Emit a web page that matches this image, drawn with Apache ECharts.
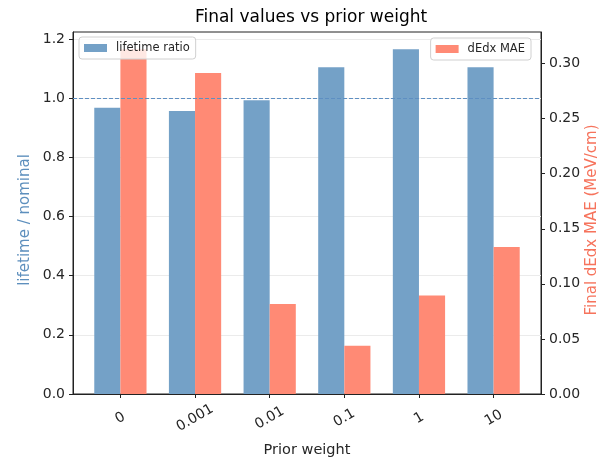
<!DOCTYPE html>
<html>
<head>
<meta charset="utf-8">
<script src="https://cdn.jsdelivr.net/npm/echarts@6/dist/echarts.min.js"></script>
<style>
  html, body { margin: 0; padding: 0; background: #fff; }
  #chart { width: 600px; height: 459px; }
</style>
</head>
<body>
<div id="chart"></div>
<script>
// Prior weights tried, and the final results for each run
const priorWeights = ['0', '0.001', '0.01', '0.1', '1', '10'];
const lifetimeRatio = [0.967, 0.956, 0.993, 1.104, 1.165, 1.104];
const dedxMae = [0.313, 0.2915, 0.0816, 0.0438, 0.0895, 0.1334];
const leftTicks = [0, 0.2, 0.4, 0.6, 0.8, 1.0, 1.2];
const rightTicks = [0, 0.05, 0.10, 0.15, 0.20, 0.25, 0.30];
const nominal = 1.0;

const barFrac = 0.35;               // each bar is 0.35 of the category spacing
const idx = priorWeights.map((_, i) => i);
const xPad = barFrac + 0.05 * (priorWeights.length - 1 + 2 * barFrac);

const FONT = 'DejaVu Sans';
const INK = '#262626';

const chart = echarts.init(document.getElementById('chart'), null, { renderer: 'canvas' });

const legendBase = {
  orient: 'vertical',
  icon: 'rect',
  itemWidth: 23, itemHeight: 8, itemGap: 6,
  padding: [5, 6, 5, 5],
  borderColor: '#d0d0d0', borderWidth: 1, borderRadius: 3,
  backgroundColor: 'rgba(255,255,255,0.8)',
  textStyle: { fontFamily: FONT, fontSize: 11.5, color: INK, padding: [0, 0, 0, 4] },
  selectedMode: false
};

const axisLineStyle = { show: true, onZero: false, lineStyle: { color: '#222', width: 1 } };

chart.setOption({
  animation: false,
  backgroundColor: '#ffffff',
  textStyle: { fontFamily: FONT },
  title: {
    text: 'Final values vs prior weight',
    left: 306, top: 4, textAlign: 'center',
    textStyle: { fontFamily: FONT, fontSize: 17, fontWeight: 'normal', color: '#000' }
  },
  legend: [
    Object.assign({}, legendBase, { data: ['lifetime ratio'], left: 79, top: 37 }),
    Object.assign({}, legendBase, { data: ['dEdx MAE'], right: 69, top: 38 })
  ],
  grid: {
    left: 73, right: 59, top: 32, bottom: 65,
    outerBoundsMode: 'none',
    containLabel: false,
    show: true, borderColor: '#222', borderWidth: 1,
    backgroundColor: 'transparent'
  },
  xAxis: {
    type: 'value',
    min: -xPad,
    max: priorWeights.length - 1 + xPad,
    name: 'Prior weight',
    nameLocation: 'middle',
    nameGap: 49,
    nameMoveOverlap: false,
    nameTextStyle: { fontFamily: FONT, fontSize: 14.5, color: INK },
    axisLine: axisLineStyle,
    axisTick: { show: true, length: 4, lineStyle: { color: '#222' }, customValues: idx },
    axisLabel: {
      customValues: idx,
      rotate: 30,
      align: 'center',
      verticalAlign: 'middle',
      margin: 24,
      fontFamily: FONT, fontSize: 14, color: INK,
      formatter: v => priorWeights[Math.round(v)]
    },
    splitLine: { show: false }
  },
  yAxis: [
    {
      type: 'value',
      position: 'left',
      min: 0,
      max: Math.max(...lifetimeRatio) * 1.05,
      name: 'lifetime / nominal',
      nameLocation: 'middle',
      nameGap: 48,
      nameRotate: 90,
      nameMoveOverlap: false,
      nameTextStyle: {
        fontFamily: FONT, fontSize: 15, color: '#5d8fbd',
        align: 'center', verticalAlign: 'middle', padding: [0, 14, 0, 0]
      },
      axisLine: axisLineStyle,
      axisTick: { show: true, length: 4, lineStyle: { color: '#222' }, customValues: leftTicks },
      axisLabel: {
        customValues: leftTicks,
        fontFamily: FONT, fontSize: 14, color: INK, margin: 8,
        formatter: v => v.toFixed(1)
      },
      splitLine: { show: true, lineStyle: { color: '#ebebeb', width: 1 } }
    },
    {
      type: 'value',
      position: 'right',
      min: 0,
      max: Math.max(...dedxMae) * 1.05,
      name: 'Final dEdx MAE (MeV/cm)',
      nameLocation: 'middle',
      nameGap: 51,
      nameRotate: 90,
      nameMoveOverlap: false,
      nameTextStyle: {
        fontFamily: FONT, fontSize: 15, color: '#f6735c',
        align: 'center', verticalAlign: 'middle', padding: [0, 14, 0, 0]
      },
      axisLine: axisLineStyle,
      axisTick: { show: true, length: 4, lineStyle: { color: '#222' }, customValues: rightTicks },
      axisLabel: {
        customValues: rightTicks,
        fontFamily: FONT, fontSize: 14, color: INK, margin: 8,
        formatter: v => v.toFixed(2)
      },
      splitLine: { show: false }
    }
  ],
  series: [
    {
      name: 'lifetime ratio',
      type: 'bar',
      xAxisIndex: 0,
      yAxisIndex: 0,
      barWidth: (barFrac * 100) + '%',
      barGap: '0%',
      itemStyle: { color: '#74a1c7' },
      data: lifetimeRatio.map((v, i) => [i, v]),
      markLine: {
        silent: true,
        symbol: 'none',
        label: { show: false },
        lineStyle: { color: '#5e8fc2', type: [4, 2], width: 1, opacity: 1 },
        emphasis: { disabled: true },
        data: [{ yAxis: nominal }]
      },
      z: 2
    },
    {
      name: 'dEdx MAE',
      type: 'bar',
      xAxisIndex: 0,
      yAxisIndex: 1,
      barWidth: (barFrac * 100) + '%',
      barGap: '0%',
      itemStyle: { color: '#ff8a75' },
      data: dedxMae.map((v, i) => [i, v]),
      z: 2
    }
  ]
});
</script>
</body>
</html>
